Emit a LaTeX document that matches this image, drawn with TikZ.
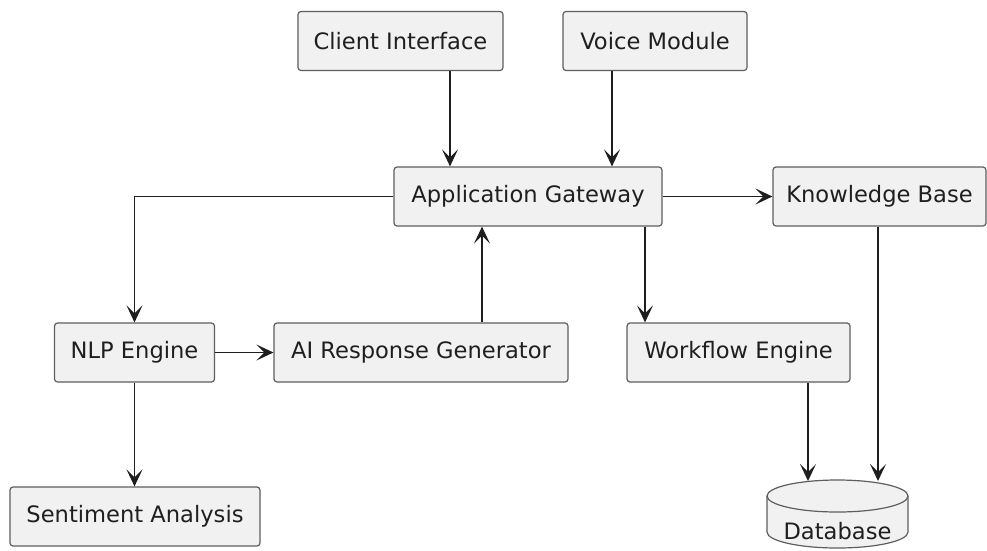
\documentclass[tikz,border=0pt]{standalone}
\usepackage{fontspec}
\setmainfont{DejaVu Sans}
\usetikzlibrary{arrows.meta}

\definecolor{boxfill}{HTML}{F1F1F1}
\definecolor{boxline}{HTML}{5E5E5E}
\definecolor{linecol}{HTML}{1E1E1E}

\begin{document}
\begin{tikzpicture}[
		x=1pt, y=-1pt,
		every node/.style={font=\fontsize{22.6}{27}\selectfont, text=black!88},
		box/.style={rectangle, rounded corners=3pt, draw=boxline, fill=boxfill, line width=1.2pt, minimum height=59pt, inner xsep=0pt},
		link/.style={draw=linecol, line width=1.6pt, -{Stealth[length=17pt, width=16pt, inset=8pt]}}
	]
  \useasboundingbox (0,0) rectangle (987,550);
  \node (client) [box, minimum width=205pt] at (400.5, 41) {Client Interface};
  \node (voice) [box, minimum width=184pt] at (655, 41) {Voice Module};
  \node (gateway) [box, minimum width=268pt] at (528, 196.5) {Application Gateway};
  \node (kb) [box, minimum width=213pt] at (879.5, 196.5) {Knowledge Base};
  \node (nlp) [box, minimum width=160pt] at (134.5, 352.5) {NLP Engine};
  \node (ai) [box, minimum width=294pt] at (421, 352.5) {AI Response Generator};
  \node (wf) [box, minimum width=223pt] at (738.5, 352.5) {Workflow Engine};
  \node (sent) [box, minimum width=250pt] at (135, 516.5) {Sentiment Analysis};
  % database drum
  \node (db) [minimum width=141pt, minimum height=68pt, inner sep=0pt] at (837.5, 514) {};
  \filldraw [fill=boxfill, draw=boxline, line width=1.2pt]
    (767,496) -- (767,532) arc [start angle=180, end angle=360, x radius=70.5pt, y radius=16pt] -- (908,496);
  \filldraw [fill=boxfill, draw=boxline, line width=1.2pt] (837.5,496) ellipse [x radius=70.5pt, y radius=16pt];
  \node (db_label) [inner sep=0pt] at (837.5, 531) {Database};
  % connectors
  \draw [link] (client.south -| 450,0) -- (gateway.north -| 450,0);
  \draw [link] (voice.south -| 612,0) -- (gateway.north -| 612,0);
  \draw [link] (gateway.west) -| (nlp.north);
  \draw [link] (gateway.east) -- (kb.west);
  \draw [link] (gateway.south -| 645,0) -- (wf.north -| 645,0);
  \draw [link] (ai.north -| 482,0) -- (gateway.south -| 482,0);
  \draw [link] (nlp.east) -- (ai.west);
  \draw [link] (nlp.south) -- (nlp.south |- sent.north);
  \draw [link] (wf.south -| 808,0) -- (808,481);
  \draw [link] (kb.south -| 878,0) -- (878,481);
\end{tikzpicture}
\end{document}
